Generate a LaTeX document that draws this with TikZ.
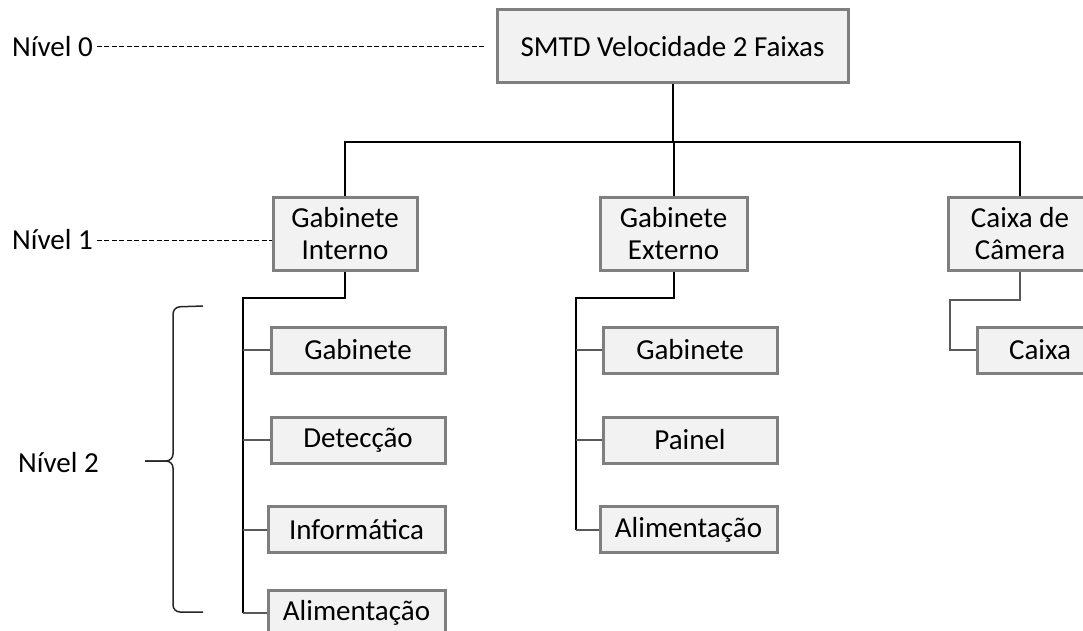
\documentclass[tikz,border=0pt]{standalone}
\usepackage{fontspec}
\setmainfont{Carlito}
\usepackage{xcolor}
\usetikzlibrary{positioning}

\definecolor{boxfill}{HTML}{F2F2F2}
\definecolor{boxline}{HTML}{7F7F7F}
\definecolor{branchgray}{HTML}{595959}

\tikzset{
    unit/.style={draw=boxline, line width=3pt, fill=boxfill, align=center,
        inner sep=2pt, font=\fontsize{29}{32}\selectfont},
    topunit/.style={unit, minimum height=73pt},
    subunit/.style={unit, minimum height=46pt},
    link/.style={line width=2pt, black},
    branch/.style={line width=2pt, branchgray},
    levelline/.style={dash pattern=on 5pt off 2.5pt, line width=1pt},
    levellabel/.style={anchor=west, inner sep=0pt, font=\fontsize{29}{32}\selectfont},
}

\begin{document}
\begin{tikzpicture}[x=1pt, y=-1pt]
        \useasboundingbox (0,0) rectangle (1083,631);
        \clip (0,0) rectangle (1083,631);

        % Level 0
        \node[topunit, minimum width=351pt] (smtd) at (672.5,46.5) {SMTD Velocidade 2 Faixas};

        % Level 1
        \node[topunit, minimum width=144pt] (gi) at (345,233.5) {Gabinete\\Interno};
        \node[topunit, minimum width=147pt] (ge) at (673.5,233.5) {Gabinete\\Externo};
        \node[topunit, minimum width=144pt] (cc) at (1020,233.5) {Caixa de\\Câmera};

        % Level 2
        \node[subunit, minimum width=174pt] (gi1) at (358,350) {Gabinete};
        \node[subunit, minimum width=174pt] (gi2) at (358,440) {Detecção};
        \node[subunit, minimum width=177pt] (gi3) at (356.5,529.5) {Informática};
        \node[subunit, minimum width=177pt] (gi4) at (356.5,613) {Alimentação};

        \node[subunit, minimum width=174pt] (ge1) at (690,350) {Gabinete};
        \node[subunit, minimum width=174pt] (ge2) at (690,440) {Painel};
        \node[subunit, minimum width=177pt] (ge3) at (688.5,529.5) {Alimentação};

        \node[subunit, minimum width=126pt] (cc1) at (1040,350) {Caixa};

        % Connectors
        \coordinate (bus) at (0,142);
        \draw[link] (smtd.south) -- (smtd.south |- bus);
        \draw[link] (gi.north) |- (smtd.south |- bus) -| (cc.north);
        \draw[link] (ge.north) -- (ge.north |- bus);

        \coordinate (gitrunk) at (243,298);
        \draw[link] (gi.south) |- (gitrunk) -- (gitrunk |- gi4.west);
        \foreach \n in {gi1,gi2,gi3,gi4}
            \draw[branch] (gitrunk |- \n.west) -- (\n.west);

        \coordinate (getrunk) at (576,298);
        \draw[link] (ge.south) |- (getrunk) -- (getrunk |- ge3.west);
        \foreach \n in {ge1,ge2,ge3}
            \draw[branch] (getrunk |- \n.west) -- (\n.west);

        \coordinate (cctrunk) at (950,300);
        \draw[branch] (cc.south) |- (cctrunk) |- (cc1.west);

        % Levels
        \node[levellabel] (lvl0) at (12,47) {Nível 0};
        \node[levellabel] (lvl1) at (12,240) {Nível 1};
        \node[levellabel] (lvl2) at (18,463) {Nível 2};
        \draw[levelline] ([xshift=4pt]lvl0.east) -- ([xshift=-10pt]lvl0.east -| smtd.west);
        \draw[levelline] ([xshift=4pt]lvl1.east) -- (lvl1.east -| gi.west);

        % Brace
        \coordinate (bracetop) at (203,306);
        \coordinate (bracebot) at (203,612);
        \coordinate (bracetip) at (145,461);
        \draw[line width=1.5pt, black!85, rounded corners=7pt]
            (bracetop) -- (173,307) -- (173,461) -- (bracetip);
        \draw[line width=1.5pt, black!85, rounded corners=7pt]
            (bracebot) -- (173,612) -- (173,461) -- (bracetip);
    \end{tikzpicture}
\end{document}
